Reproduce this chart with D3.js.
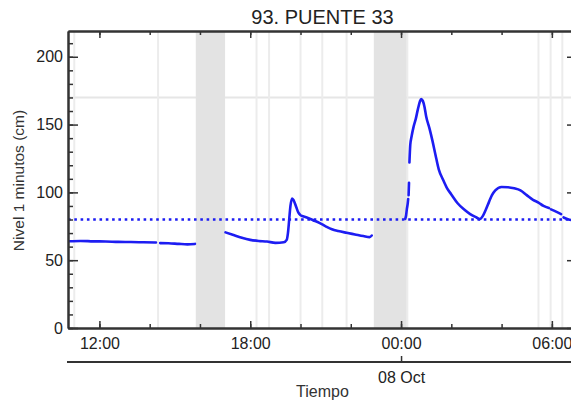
<!DOCTYPE html>
<html>
<head>
<meta charset="utf-8">
<script src="https://cdn.jsdelivr.net/npm/d3@7"></script>
<style>
  body { margin: 0; background: #fff; }
  text { font-family: "Liberation Sans", Arial, Helvetica, sans-serif; }
</style>
</head>
<body>
<svg id="chart" width="571" height="404"></svg>
<script>
// ---- data ----
const title = "93. PUENTE 33";
const yLabel = "Nivel 1 minutos (cm)";
const xLabel = "Tiempo";
const timeDomain = ["2023-10-07 10:45", "2023-10-08 07:00"];
const yDomain = [0, 219];
const yMajorTicks = [0, 50, 100, 150, 200];
const yMinorTicks = d3.range(0, 220, 10);
const thresholdLine = 170;
const alertLevel = 80;
// shaded periods (no data)
const bandStarts = ["2023-10-07 15:50", "2023-10-07 22:55"];
const bandEnds   = ["2023-10-07 17:00", "2023-10-08 00:13"];
// thin grey markers (short gaps)
const gapMarks = ["2023-10-07 11:00", "2023-10-07 14:20", "2023-10-07 18:15", "2023-10-07 18:45",
  "2023-10-07 20:00", "2023-10-07 20:52", "2023-10-07 21:50", "2023-10-08 00:15",
  "2023-10-08 05:28", "2023-10-08 05:57", "2023-10-08 06:25"];
// level series (null = gap)
const times = [
  "2023-10-07 10:45","2023-10-07 11:15","2023-10-07 11:45","2023-10-07 12:15","2023-10-07 12:45",
  "2023-10-07 13:15","2023-10-07 13:45","2023-10-07 14:15","2023-10-07 14:20",
  "2023-10-07 14:25","2023-10-07 14:45","2023-10-07 15:10","2023-10-07 15:30","2023-10-07 15:48","2023-10-07 15:50",
  "2023-10-07 17:01","2023-10-07 17:20","2023-10-07 17:40","2023-10-07 18:00","2023-10-07 18:20",
  "2023-10-07 18:40","2023-10-07 19:00","2023-10-07 19:20","2023-10-07 19:27","2023-10-07 19:30",
  "2023-10-07 19:33","2023-10-07 19:36","2023-10-07 19:40","2023-10-07 19:44","2023-10-07 19:50",
  "2023-10-07 19:55","2023-10-07 19:59","2023-10-07 20:00",
  "2023-10-07 20:02","2023-10-07 20:15","2023-10-07 20:30","2023-10-07 20:45","2023-10-07 21:00",
  "2023-10-07 21:15","2023-10-07 21:30","2023-10-07 21:50","2023-10-07 22:10","2023-10-07 22:30",
  "2023-10-07 22:45","2023-10-07 22:50","2023-10-07 22:55",
  "2023-10-08 00:10","2023-10-08 00:12","2023-10-08 00:14","2023-10-08 00:16","2023-10-08 00:17","2023-10-08 00:17",
  "2023-10-08 00:18","2023-10-08 00:19","2023-10-08 00:19",
  "2023-10-08 00:20","2023-10-08 00:22","2023-10-08 00:25","2023-10-08 00:30","2023-10-08 00:35",
  "2023-10-08 00:40","2023-10-08 00:45","2023-10-08 00:48","2023-10-08 00:52","2023-10-08 00:56",
  "2023-10-08 01:00","2023-10-08 01:08","2023-10-08 01:15","2023-10-08 01:22","2023-10-08 01:30",
  "2023-10-08 01:40","2023-10-08 01:50","2023-10-08 02:00","2023-10-08 02:15","2023-10-08 02:30",
  "2023-10-08 02:45","2023-10-08 03:00","2023-10-08 03:08","2023-10-08 03:15","2023-10-08 03:22",
  "2023-10-08 03:30","2023-10-08 03:37","2023-10-08 03:45","2023-10-08 04:00","2023-10-08 04:15",
  "2023-10-08 04:30","2023-10-08 04:45","2023-10-08 05:00","2023-10-08 05:15","2023-10-08 05:28",
  "2023-10-08 05:40","2023-10-08 05:53","2023-10-08 05:55",
  "2023-10-08 05:58","2023-10-08 06:10","2023-10-08 06:22","2023-10-08 06:25",
  "2023-10-08 06:28","2023-10-08 06:40","2023-10-08 06:55"
];
const levels = [
  64.0, 64.2, 63.9, 63.8, 63.5,
  63.4, 63.2, 63.0, null,
  62.6, 62.5, 62.0, 61.7, 62.0, null,
  70.5, 68.5, 66.5, 65.0, 64.2,
  63.8, 62.8, 63.2, 65.0, 70.0,
  80.0, 90.0, 95.5, 94.0, 89.0,
  85.0, 83.5, null,
  82.8, 81.5, 79.5, 77.5, 75.0,
  72.8, 71.5, 70.2, 69.0, 67.8,
  67.0, 68.2, null,
  80.5, 83.0, 88.0, 92.0, 95.0, null,
  98.0, 107.0, null,
  122.0, 135.0, 141.0, 148.5, 154.0,
  161.0, 167.0, 168.8, 167.5, 163.0,
  156.0, 147.0, 138.0, 128.0, 117.0,
  109.5, 103.0, 98.5, 92.0, 87.5,
  84.0, 81.5, 80.3, 82.5, 87.0,
  93.0, 98.0, 101.5, 104.0, 103.8,
  103.0, 101.5, 98.0, 94.5, 92.5,
  90.0, 88.5, null,
  87.5, 85.8, 84.0, null,
  81.5, 80.0, 79.2
];

// ---- chart ----
const parse = d3.timeParse("%Y-%m-%d %H:%M");
const svg = d3.select("#chart");
const pLeft = 68, pRight = 577, pTop = 31, pBottom = 328;
const axisColor = "#333";
const blue = "#1d1df2";

const x = d3.scaleTime().domain(timeDomain.map(parse)).range([pLeft, pRight]);
const y = d3.scaleLinear().domain(yDomain).range([pBottom, pTop]);

svg.append("defs").append("clipPath").attr("id", "plotclip")
  .append("rect").attr("x", pLeft).attr("y", pTop).attr("width", pRight - pLeft).attr("height", pBottom - pTop);

const plot = svg.append("g").attr("clip-path", "url(#plotclip)");

// threshold grey line
plot.append("line")
  .attr("x1", pLeft).attr("x2", pRight)
  .attr("y1", y(thresholdLine)).attr("y2", y(thresholdLine))
  .attr("stroke", "#e6e6e6").attr("stroke-width", 2);

// gap marker lines
plot.selectAll("line.gap").data(gapMarks.map(parse)).enter().append("line")
  .attr("class", "gap")
  .attr("x1", d => x(d)).attr("x2", d => x(d))
  .attr("y1", pTop).attr("y2", pBottom)
  .attr("stroke", "#ececec").attr("stroke-width", 2);

// shaded bands
plot.selectAll("rect.band").data(bandStarts.map((s, i) => [parse(s), parse(bandEnds[i])])).enter().append("rect")
  .attr("class", "band")
  .attr("x", d => x(d[0])).attr("width", d => x(d[1]) - x(d[0]))
  .attr("y", pTop).attr("height", pBottom - pTop)
  .attr("fill", "#e3e3e3");

// alert dotted line
plot.append("line")
  .attr("x1", pLeft).attr("x2", pRight)
  .attr("y1", y(alertLevel)).attr("y2", y(alertLevel))
  .attr("stroke", blue).attr("stroke-width", 2.6)
  .attr("stroke-dasharray", "2.6,3.7");

// series
const series = times.map((t, i) => ({t: parse(t), v: levels[i]}));
const line = d3.line().defined(d => d.v !== null).x(d => x(d.t)).y(d => y(d.v)).curve(d3.curveMonotoneX);
plot.append("path").datum(series)
  .attr("fill", "none").attr("stroke", blue).attr("stroke-width", 2.6)
  .attr("stroke-linejoin", "round").attr("stroke-linecap", "round")
  .attr("d", line);

function styleAxis(g, labels) {
  g.select(".domain").attr("stroke", axisColor).attr("stroke-width", 2);
  g.selectAll(".tick line").attr("stroke", axisColor).attr("stroke-width", 1.5);
  g.selectAll(".tick text").attr("fill", "#222").style("font-size", "16px");
  if (!labels) g.selectAll(".tick text").remove();
}

// Y axes
const gyMinor = svg.append("g").attr("transform", `translate(${pLeft},0)`)
  .call(d3.axisLeft(y).tickValues(yMinorTicks).tickSize(-5).tickSizeOuter(0));
styleAxis(gyMinor, false);
const gy = svg.append("g").attr("transform", `translate(${pLeft},0)`)
  .call(d3.axisLeft(y).tickValues(yMajorTicks).tickSize(-10).tickSizeOuter(0).tickPadding(5));
styleAxis(gy, true);

const gyrMinor = svg.append("g").attr("transform", `translate(${pRight},0)`)
  .call(d3.axisRight(y).tickValues(yMinorTicks).tickSize(-5).tickSizeOuter(0));
styleAxis(gyrMinor, false);
const gyr = svg.append("g").attr("transform", `translate(${pRight},0)`)
  .call(d3.axisRight(y).tickValues(yMajorTicks).tickSize(-10).tickSizeOuter(0));
styleAxis(gyr, false);

// X axes
const minorX = d3.timeHour.every(2);
const majorX = d3.timeHour.every(6);
const gxMinor = svg.append("g").attr("transform", `translate(0,${pBottom})`)
  .call(d3.axisBottom(x).ticks(minorX).tickSize(-4).tickSizeOuter(0));
styleAxis(gxMinor, false);
const gx = svg.append("g").attr("transform", `translate(0,${pBottom})`)
  .call(d3.axisBottom(x).ticks(majorX).tickSize(-7).tickSizeOuter(0).tickPadding(10)
    .tickFormat(d3.timeFormat("%H:%M")));
styleAxis(gx, true);

const gxtMinor = svg.append("g").attr("transform", `translate(0,${pTop})`)
  .call(d3.axisTop(x).ticks(minorX).tickSize(-4).tickSizeOuter(0));
styleAxis(gxtMinor, false);
const gxt = svg.append("g").attr("transform", `translate(0,${pTop})`)
  .call(d3.axisTop(x).ticks(majorX).tickSize(-7).tickSizeOuter(0));
styleAxis(gxt, false);

// date axis below
const gxd = svg.append("g").attr("transform", `translate(0,362)`)
  .call(d3.axisBottom(x).ticks(d3.timeDay.every(1)).tickSize(-6).tickSizeOuter(0).tickPadding(10)
    .tickFormat(d3.timeFormat("%d %b")));
styleAxis(gxd, true);
gxd.select(".domain").attr("d", `M${pLeft - 1},0H${pRight}`);

// labels
svg.append("text").attr("x", (pLeft + pRight) / 2).attr("y", 24)
  .attr("text-anchor", "middle").attr("fill", "#222").style("font-size", "20px").text(title);
svg.append("text").attr("x", (pLeft + pRight) / 2).attr("y", 396.5)
  .attr("text-anchor", "middle").attr("fill", "#333").style("font-size", "16px").text(xLabel);
svg.append("text").attr("transform", "translate(24,180.5) rotate(-90)")
  .attr("text-anchor", "middle").attr("fill", "#333").style("font-size", "15.5px").text(yLabel);
</script>
</body>
</html>
